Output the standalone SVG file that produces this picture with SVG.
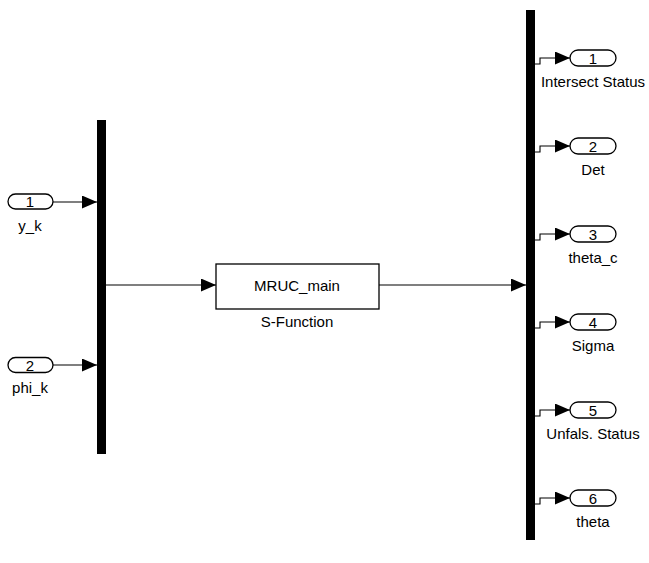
<svg xmlns="http://www.w3.org/2000/svg" width="649" height="563" viewBox="0 0 649 563">
<defs>
<marker id="ah" markerWidth="15" markerHeight="13" refX="15" refY="6.5" orient="auto" markerUnits="userSpaceOnUse">
<path d="M0,0 L15,6.5 L0,13 Z" fill="#000"/>
</marker>
<style>
text{font-family:"Liberation Sans",Arial,sans-serif;font-size:15px;fill:#000;text-anchor:middle}
.pill{fill:#fff;stroke:#000;stroke-width:1.3}
.bar{fill:#000}
.ln{fill:none;stroke:#000;stroke-width:1.1}
.blk{fill:#fff;stroke:#000;stroke-width:1.3}
</style>
</defs>
<rect width="649" height="563" fill="#fff"/>
<g id="connectors">
<path class="ln" d="M53,202 H97" marker-end="url(#ah)"/>
<path class="ln" d="M53,365 H97" marker-end="url(#ah)"/>
<path class="ln" d="M106,285 H216" marker-end="url(#ah)"/>
<path class="ln" d="M379,285 H526" marker-end="url(#ah)"/>
<path class="ln" d="M535,64 H540 V58 H570" marker-end="url(#ah)"/>
<path class="ln" d="M535,152 H540 V146 H570" marker-end="url(#ah)"/>
<path class="ln" d="M535,240 H540 V234 H570" marker-end="url(#ah)"/>
<path class="ln" d="M535,328 H540 V322 H570" marker-end="url(#ah)"/>
<path class="ln" d="M535,416 H540 V410 H570" marker-end="url(#ah)"/>
<path class="ln" d="M535,504 H540 V498 H570" marker-end="url(#ah)"/>
</g>
<g id="in1">
<rect class="pill" x="8" y="194" width="45" height="15" rx="7.5"/>
<text x="30" y="207">1</text>
<text x="30" y="231">y_k</text>
</g>
<g id="in2">
<rect class="pill" x="8" y="357.5" width="45" height="15" rx="7.5"/>
<text x="30" y="370.5">2</text>
<text x="30" y="393">phi_k</text>
</g>
<g id="mux">
<rect class="bar" x="97" y="120" width="9" height="334"/>
</g>
<g id="sfun">
<rect class="blk" x="216" y="264" width="163" height="45"/>
<text x="297" y="291">MRUC_main</text>
<text x="297" y="327">S-Function</text>
</g>
<g id="demux">
<rect class="bar" x="526" y="10" width="9" height="530"/>
</g>
<g id="out1">
<rect class="pill" x="570" y="50" width="46" height="16" rx="8"/>
<text x="593" y="63.5">1</text>
<text x="593" y="87">Intersect Status</text>
</g>
<g id="out2">
<rect class="pill" x="570" y="138" width="46" height="16" rx="8"/>
<text x="593" y="151.5">2</text>
<text x="593" y="175">Det</text>
</g>
<g id="out3">
<rect class="pill" x="570" y="226" width="46" height="16" rx="8"/>
<text x="593" y="239.5">3</text>
<text x="593" y="263">theta_c</text>
</g>
<g id="out4">
<rect class="pill" x="570" y="314" width="46" height="16" rx="8"/>
<text x="593" y="327.5">4</text>
<text x="593" y="351">Sigma</text>
</g>
<g id="out5">
<rect class="pill" x="570" y="402" width="46" height="16" rx="8"/>
<text x="593" y="415.5">5</text>
<text x="593" y="439">Unfals. Status</text>
</g>
<g id="out6">
<rect class="pill" x="570" y="490" width="46" height="16" rx="8"/>
<text x="593" y="503.5">6</text>
<text x="593" y="527">theta</text>
</g>
</svg>
